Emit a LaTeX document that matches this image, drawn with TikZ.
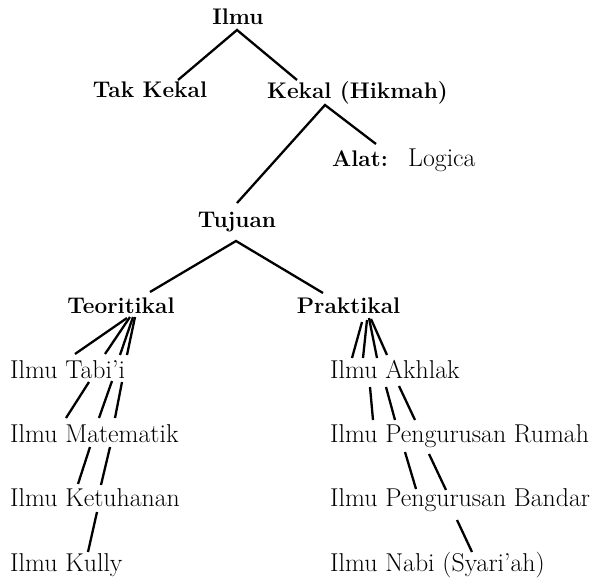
\documentclass[tikz,border=0pt]{standalone}
\usepackage{tikz}
\begin{document}
\begin{tikzpicture}[x=1pt,y=-1pt,
    lbl/.style={inner sep=0pt,font=\fontsize{25.8}{30}\selectfont},
    hd/.style={inner sep=0pt,font=\fontsize{22.6}{27}\selectfont\bfseries},
    br/.style={line width=2.3pt}]
\useasboundingbox (0,0) rectangle (591,583);
% upper tree
\node[hd,anchor=base] (ilmu) at (238,25) {Ilmu};
\node[hd,anchor=base] (tak) at (150,98) {Tak Kekal};
\node[hd,anchor=base] (kekal) at (357.5,99) {Kekal (Hikmah)};
\node[hd,anchor=base west] (alat) at (332,166) {Alat:};
\node[lbl,anchor=base west] (logica) at (408,166) {Logica};
\node[hd,anchor=base] (tujuan) at (237,227) {Tujuan};
\node[hd,anchor=base] (teori) at (121,313) {Teoritikal};
\node[hd,anchor=base] (prak) at (348.5,313) {Praktikal};
% left column
\node[lbl,anchor=base west] (tabii) at (10,378) {Ilmu Tabi'i};
\node[lbl,anchor=base west] (matem) at (10,442) {Ilmu Matematik};
\node[lbl,anchor=base west] (ketuh) at (10,506) {Ilmu Ketuhanan};
\node[lbl,anchor=base west] (kully) at (10,571) {Ilmu Kully};
% right column
\node[lbl,anchor=base west] (akhlak) at (330,378) {Ilmu Akhlak};
\node[lbl,anchor=base west] (rumah) at (330,442) {Ilmu Pengurusan Rumah};
\node[lbl,anchor=base west] (bandar) at (330,506) {Ilmu Pengurusan Bandar};
\node[lbl,anchor=base west] (nabi) at (330,571) {Ilmu Nabi (Syari'ah)};

\draw[br] ([shift={(28,-18)}]tak.base) -- ([shift={(-1,5)}]ilmu.base) -- ([shift={(-60.5,-19)}]kekal.base);
\draw[br] ([shift={(0,-24)}]tujuan.base) -- ([shift={(-32.5,6)}]kekal.base) -- ([shift={(44,-22)}]alat.base west);
\draw[br] ([shift={(29,-21)}]teori.base) -- ([shift={(-1,14)}]tujuan.base) -- ([shift={(-25.5,-20)}]prak.base);

\foreach \sx/\sy/\ex/\ey in {6/5/65/-24, 9/4/95/-24, 12/4/110/-23, 14/4/117/-23}
  \draw[br] ([shift={(\sx,\sy)}]teori.base) -- ([shift={(\ex,\ey)}]tabii.base west);
\foreach \sx/\sy/\ex/\ey in {79/4/56/-24, 102/3/89/-24, 112/4/105/-24}
  \draw[br] ([shift={(\sx,\sy)}]tabii.base west) -- ([shift={(\ex,\ey)}]matem.base west);
\foreach \sx/\sy/\ex/\ey in {80/5/68/-22, 100/5/91/-21}
  \draw[br] ([shift={(\sx,\sy)}]matem.base west) -- ([shift={(\ex,\ey)}]ketuh.base west);
\draw[br] ([shift={(87,6)}]ketuh.base west) -- ([shift={(78,-19)}]kully.base west);

\foreach \sx/\sy/\ex/\ey in {13.5/9/22/-20, 18.5/7/33/-20, 20.5/5/47/-20, 22.5/6/57/-23}
  \draw[br] ([shift={(\sx,\sy)}]prak.base) -- ([shift={(\ex,\ey)}]akhlak.base west);
\foreach \sx/\sy/\ex/\ey in {40/9/43/-22, 56/9/65/-22, 69/8/85/-22}
  \draw[br] ([shift={(\sx,\sy)}]akhlak.base west) -- ([shift={(\ex,\ey)}]rumah.base west);
\foreach \sx/\sy/\ex/\ey in {75/10/86/-17, 99/12/116/-16}
  \draw[br] ([shift={(\sx,\sy)}]rumah.base west) -- ([shift={(\ex,\ey)}]bandar.base west);
\draw[br] ([shift={(127,14)}]bandar.base west) -- ([shift={(142,-19)}]nabi.base west);
\end{tikzpicture}
\end{document}
